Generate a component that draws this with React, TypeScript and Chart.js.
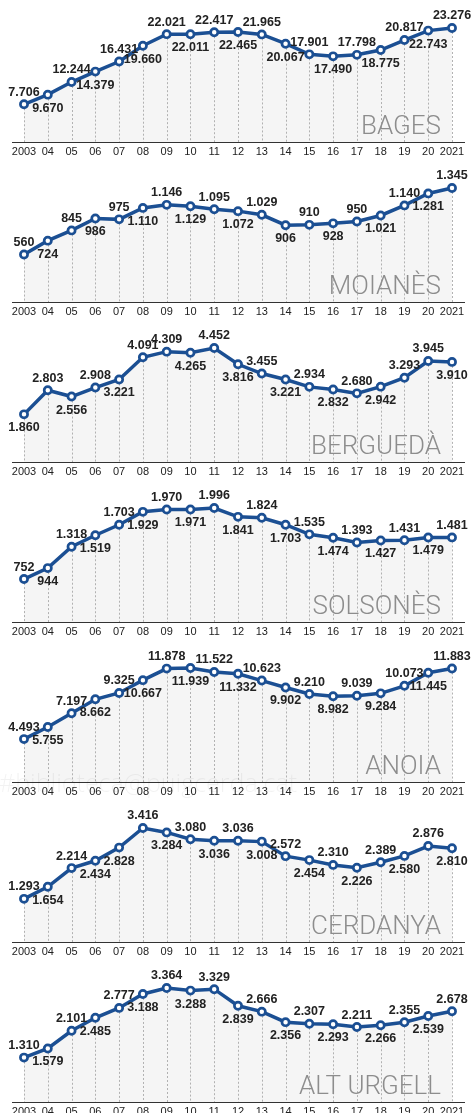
import React, { useEffect, useRef } from "react";
import { Chart, registerables } from "chart.js";

Chart.register(...registerables);

const YEARS = ["2003", "04", "05", "06", "07", "08", "09", "10", "11", "12", "13", "14", "15", "16", "17", "18", "19", "20", "2021"];

const BAGES = [7706, 9670, 12244, 14379, 16431, 19660, 22021, 22011, 22417, 22465, 21965, 20067, 17901, 17490, 17798, 18775, 20817, 22743, 23276];
const MOIANES = [560, 724, 845, 986, 975, 1110, 1146, 1129, 1095, 1072, 1029, 906, 910, 928, 950, 1021, 1140, 1281, 1345];
const BERGUEDA = [1860, 2803, 2556, 2908, 3221, 4091, 4309, 4265, 4452, 3816, 3455, 3221, 2934, 2832, 2680, 2942, 3293, 3945, 3910];
const SOLSONES = [752, 944, 1318, 1519, 1703, 1929, 1970, 1971, 1996, 1841, 1824, 1703, 1535, 1474, 1393, 1427, 1431, 1479, 1481];
const ANOIA = [4493, 5755, 7197, 8662, 9325, 10667, 11878, 11939, 11522, 11332, 10623, 9902, 9210, 8982, 9039, 9284, 10073, 11445, 11883];
const CERDANYA = [1293, 1654, 2214, 2434, 2828, 3416, 3284, 3080, 3036, 3036, 3008, 2572, 2454, 2310, 2226, 2389, 2580, 2876, 2810];
const ALT_URGELL = [1310, 1579, 2101, 2485, 2777, 3188, 3364, 3288, 3329, 2839, 2666, 2356, 2307, 2293, 2211, 2266, 2355, 2539, 2678];

// label placement: a = above the point, b = below the point
const BAGES_POS = "abababababababababa";
const MOIANES_POS = "abababababababababa";
const BERGUEDA_POS = "bababaabababababaab";
const SOLSONES_POS = "abababababababababa";
const ANOIA_POS = "abababababababababa";
const CERDANYA_POS = "ababbababababababab";
const ALT_URGELL_POS = "abababababababababa";

const PANELS = [
  { title: "BAGES", values: BAGES, pos: BAGES_POS },
  { title: "MOIANÈS", values: MOIANES, pos: MOIANES_POS },
  { title: "BERGUEDÀ", values: BERGUEDA, pos: BERGUEDA_POS },
  { title: "SOLSONÈS", values: SOLSONES, pos: SOLSONES_POS },
  { title: "ANOIA", values: ANOIA, pos: ANOIA_POS },
  { title: "CERDANYA", values: CERDANYA, pos: CERDANYA_POS },
  { title: "ALT URGELL", values: ALT_URGELL, pos: ALT_URGELL_POS },
];

const BLUE = "#1b4f93";
const NUM_FONT = "bold 12.5px 'Liberation Sans Narrow', 'Liberation Sans', sans-serif";
const TITLE_FONT = "300 26px Roboto, 'Open Sans', sans-serif";

function fmt(v: number) {
  return v.toLocaleString("de-DE");
}

function Panel({ title, values, pos }: { title: string; values: number[]; pos: string }) {
  const ref = useRef<HTMLCanvasElement>(null);
  useEffect(() => {
    const decor = {
      id: "decor",
      beforeDatasetDraw(chart: any) {
        const ctx = chart.ctx;
        const area = chart.chartArea;
        const pts = chart.getDatasetMeta(0).data;
        ctx.save();
        ctx.strokeStyle = "#a0a0a0";
        ctx.lineWidth = 0.8;
        ctx.setLineDash([2, 2]);
        pts.forEach((p: any) => {
          const x = Math.round(p.x) + 0.5;
          ctx.beginPath();
          ctx.moveTo(x, p.y);
          ctx.lineTo(x, area.bottom);
          ctx.stroke();
        });
        ctx.setLineDash([]);
        ctx.fillStyle = "#8d8d8d";
        ctx.font = TITLE_FONT;
        ctx.textAlign = "right";
        ctx.textBaseline = "alphabetic";
        ctx.fillText(title, 441, 133.5);
        ctx.restore();
      },
      afterDatasetsDraw(chart: any) {
        const ctx = chart.ctx;
        const pts = chart.getDatasetMeta(0).data;
        ctx.save();
        ctx.font = NUM_FONT;
        ctx.fillStyle = "#222";
        ctx.textAlign = "center";
        ctx.textBaseline = "middle";
        pts.forEach((p: any, i: number) => {
          const above = pos[i] === "a";
          ctx.fillText(fmt(values[i]), p.x, above ? p.y - 12 : p.y + 13.5);
        });
        ctx.restore();
      },
      afterDraw(chart: any) {
        const ctx = chart.ctx;
        const y = chart.chartArea.bottom + 0.5;
        ctx.save();
        ctx.strokeStyle = "#333";
        ctx.lineWidth = 1.2;
        ctx.beginPath();
        ctx.moveTo(12, y);
        ctx.lineTo(465, y);
        ctx.stroke();
        ctx.restore();
      },
    };
    const chart = new Chart(ref.current!, {
      type: "line",
      data: {
        labels: YEARS,
        datasets: [
          {
            data: values,
            borderColor: BLUE,
            borderWidth: 3.5,
            pointRadius: 3.6,
            pointBorderWidth: 2.7,
            pointBackgroundColor: "#fff",
            pointBorderColor: BLUE,
            fill: "origin",
            backgroundColor: "#f5f5f5",
            tension: 0,
            clip: false,
          },
        ],
      },
      options: {
        responsive: false,
        animation: false,
        layout: { padding: { top: 28, left: 24, right: 19, bottom: 0 } },
        plugins: { legend: { display: false }, tooltip: { enabled: false } },
        scales: {
          x: {
            grid: { display: false, drawTicks: false },
            border: { display: false },
            ticks: {
              autoSkip: false,
              maxRotation: 0,
              padding: 3,
              color: "#222",
              font: { family: "'Liberation Sans Narrow', 'Liberation Sans', sans-serif", size: 11 },
            },
            afterFit: (s: any) => {
              s.height = 18;
            },
          },
          y: { display: false, min: 0, max: Math.max(...values) },
        },
      },
      plugins: [decor],
    } as any);
    return () => chart.destroy();
  }, []);
  return <canvas ref={ref} width={471} height={160} style={{ display: "block", width: 471, height: 160 }} />;
}

export default function App() {
  return (
    <div style={{ position: "absolute", left: 0, top: 0, width: 471, height: 1113, background: "#fff", overflow: "hidden" }}>
      {PANELS.map((p) => (
        <Panel key={p.title} title={p.title} values={p.values} pos={p.pos} />
      ))}
      <div
        style={{
          position: "absolute",
          left: -1,
          top: 770,
          font: "300 25px 'Open Sans', sans-serif",
          lineHeight: "25px",
          color: "rgba(0,0,0,0.05)",
          pointerEvents: "none",
          whiteSpace: "nowrap",
        }}
      >
        #biblioteca@puigcerda.cat
      </div>
    </div>
  );
}
